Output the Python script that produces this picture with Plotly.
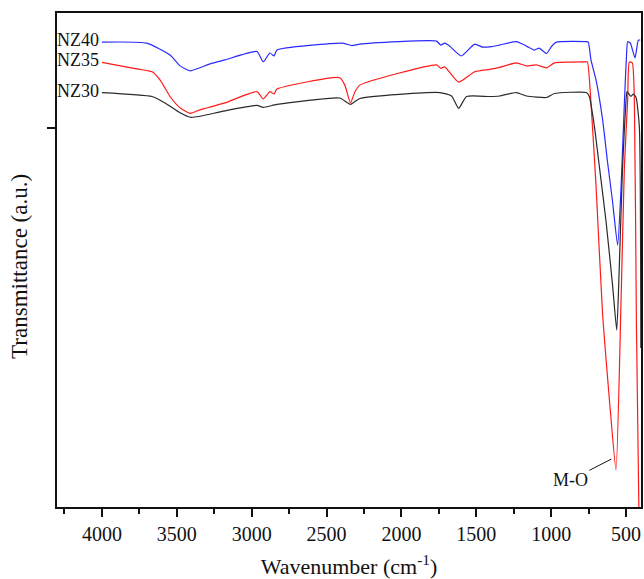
import plotly.graph_objects as go

# Wavenumber (cm-1) and transmittance (a.u.)
nz40_x = [4000, 3700, 3545, 3478, 3410, 3278, 3178, 2965, 2923, 2878, 2851, 2831, 2391, 2331, 2278,
          1765, 1738, 1711, 1678, 1600, 1511, 1458, 1398, 1345, 1232, 1165, 1112, 1079, 1031, 998,
          965, 765, 752, 734, 700, 656, 625, 591, 556, 533, 511, 496, 489, 471, 440, 418, 405]
nz40_y = [94.1, 93.9, 91.5, 89.3, 88.3, 89.7, 90.5, 92.2, 90.1, 91.9, 91.3, 92.5, 93.9, 93.4, 93.7,
          94.3, 93.5, 93.9, 93.3, 91.3, 93.7, 93.1, 93.2, 93.5, 94.2, 93.3, 92.5, 92.9, 91.8, 93.2,
          94.1, 94.2, 94.1, 90.5, 86.4, 78.3, 70.2, 62.1, 53.0, 64.8, 81.8, 91.9, 94.2, 93.9, 90.9, 94.5, 94.5]

nz35_x = [4000, 3787, 3665, 3611, 3545, 3478, 3410, 3345, 3178, 2965, 2923, 2878, 2851, 2831, 2412,
          2378, 2340, 2311, 2278, 1765, 1738, 1711, 1618, 1511, 1411, 1345, 1232, 1165, 1099, 1031,
          978, 771, 758, 734, 700, 656, 611, 567, 533, 511, 489, 478, 458, 444, 431, 412]
nz35_y = [90.0, 88.8, 88.1, 86.4, 83.1, 80.8, 79.7, 80.4, 81.8, 84.1, 82.6, 84.1, 83.6, 84.6, 86.9,
          85.4, 81.8, 84.0, 85.4, 89.5, 88.8, 89.1, 86.0, 88.1, 88.6, 89.0, 89.9, 89.3, 89.5, 88.9,
          89.9, 90.1, 90.1, 81.8, 64.8, 38.7, 21.7, 7.5, 41.9, 68.8, 82.4, 90.1, 89.9, 81.8, 37.9, -5.0]

nz30_x = [4000, 3665, 3579, 3478, 3410, 3345, 3178, 2965, 2923, 2831, 2412, 2340, 2278, 1745, 1665,
          1618, 1565, 1411, 1345, 1232, 1165, 1031, 978, 765, 745, 711, 678, 633, 589, 562, 545,
          523, 500, 493, 467, 451, 433, 411, 401]
nz30_y = [83.9, 83.1, 81.8, 79.8, 78.9, 79.1, 80.2, 81.3, 80.9, 81.5, 82.8, 81.5, 82.7, 83.9, 83.2,
          80.7, 83.1, 83.1, 83.2, 83.9, 83.2, 82.9, 83.7, 83.9, 83.1, 77.0, 68.9, 57.7, 44.6, 35.8, 48.6,
          68.9, 82.4, 84.1, 83.1, 83.6, 82.9, 77.0, 32.2]

series_names = ["NZ40", "NZ35", "NZ30"]
x_ticks = [4000, 3500, 3000, 2500, 2000, 1500, 1000, 500]
y_tick = [76.7]
mo_label = "M-O"
mo_point = (598, 9.7)
y_title = "Transmittance (a.u.)"
x_title = "Wavenumber (cm<sup>-1</sup>)"

FONT = "Liberation Serif"
colors = ["#2a2aff", "#ff1a1a", "#2a2a2a"]
series = [(nz40_x, nz40_y), (nz35_x, nz35_y), (nz30_x, nz30_y)]

fig = go.Figure()
for (xs, ys), name, c in zip(series, series_names, colors):
    fig.add_trace(go.Scatter(x=xs, y=ys, mode="lines", name=name,
                             line=dict(color=c, width=1.2, shape="spline", smoothing=0.5),
                             showlegend=False))
    fig.add_annotation(x=xs[0], y=ys[0], text=name, showarrow=False, xanchor="right",
                       yanchor="middle", xshift=-1, yshift=2,
                       font=dict(family=FONT, size=18, color="#111"))

fig.add_annotation(x=mo_point[0], y=mo_point[1], text=mo_label, showarrow=True, arrowhead=0,
                   arrowwidth=1, arrowcolor="#111", ax=-41, ay=21,
                   font=dict(family=FONT, size=18, color="#111"))

# y-axis title placed as rotated annotation (to match reference position)
fig.add_annotation(xref="paper", yref="paper", x=-0.0634, y=0.488, text=y_title,
                   textangle=-90, showarrow=False, xanchor="center", yanchor="middle",
                   font=dict(family=FONT, size=23, color="#111"))

fig.update_layout(
    width=644, height=579,
    margin=dict(l=57, r=3, t=13, b=72, autoexpand=False),
    paper_bgcolor="white", plot_bgcolor="white",
    font=dict(family=FONT, size=20, color="#111"),
)
fig.update_xaxes(
    automargin=False,
    range=[4300, 400], tickvals=x_ticks, ticktext=[str(v) for v in x_ticks],
    ticks="outside", ticklen=8, tickwidth=1.5,
    tickcolor="#111", showline=True, linecolor="#111", linewidth=1.8, mirror=True,
    showgrid=False, zeroline=False, tickfont=dict(family=FONT, size=20, color="#111"),
    minor=dict(dtick=250, tick0=0, ticks="outside", ticklen=5, tickwidth=1.5, tickcolor="#111", showgrid=False),
    title=dict(text=x_title, font=dict(family=FONT, size=22), standoff=16),
)
fig.update_yaxes(
    automargin=False,
    range=[0, 100], tickvals=y_tick, showticklabels=False, ticks="outside", ticklen=8,
    tickwidth=1.5, tickcolor="#111", showline=True, linecolor="#111", linewidth=1.8, mirror=True,
    showgrid=False, zeroline=False,
)

fig.write_html("out.html", config={"displayModeBar": False},
               post_script="document.body.style.margin='0px';document.body.style.padding='0px';")
